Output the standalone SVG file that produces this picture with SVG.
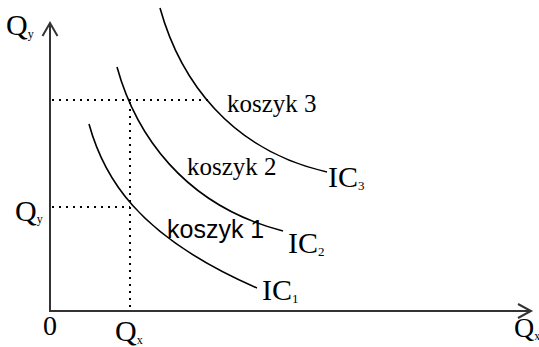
<svg xmlns="http://www.w3.org/2000/svg" width="539" height="347" viewBox="0 0 539 347">
<style>
.axis{stroke:#333;stroke-width:2;fill:none}
.curve{stroke:#000;stroke-width:1.6;fill:none}
.dot{stroke:#000;stroke-width:2;stroke-dasharray:2,5;fill:none}
.t{font-family:"Liberation Serif","Times New Roman",serif;fill:#000}
.s{font-family:"Liberation Sans",Arial,sans-serif;fill:#000}
</style>
<rect width="539" height="347" fill="#fff"/>
<g id="axes">
<path class="axis" d="M50,312 V24 M50,311 H530"/>
<path class="axis" d="M42.5,36 L50,23 L57.5,36"/>
<path class="axis" d="M518,304 L531,311 L518,318"/>
</g>
<g id="connectors">
<path class="dot" d="M52,100 H210"/>
<path class="dot" d="M52,207 H130"/>
<path class="dot" d="M130,102 V311"/>
</g>
<g id="IC1">
<path class="curve" d="M89,124 C103,175 135,235 257,288"/>
<text class="t" x="262" y="300" font-size="30">IC<tspan font-size="13" dy="3">1</tspan></text>
</g>
<g id="IC2">
<text class="s" x="167" y="238" font-size="25">koszyk 1</text>
<path class="curve" d="M117,67 C135,132 182,205 283,231"/>
<text class="t" x="288" y="253" font-size="30">IC<tspan font-size="13" dy="3">2</tspan></text>
</g>
<g id="IC3">
<path class="curve" d="M160,8 C180,80 230,150 327,172"/>
<text class="t" x="328" y="187" font-size="30">IC<tspan font-size="13" dy="3">3</tspan></text>
</g>
<g id="labels">
<text class="t" x="227" y="112" font-size="25">koszyk 3</text>
<text class="t" x="187" y="175" font-size="25">koszyk 2</text>
<text class="t" x="6" y="35" font-size="30">Q<tspan font-size="12" dy="3">y</tspan></text>
<text class="t" x="15" y="221" font-size="30">Q<tspan font-size="12" dy="2">y</tspan></text>
<text class="t" x="43" y="335" font-size="28">0</text>
<text class="t" x="115" y="341" font-size="30">Q<tspan font-size="12" dy="3">x</tspan></text>
<text class="t" x="514" y="337" font-size="28">Q<tspan font-size="12" dy="3">x</tspan></text>
</g>
</svg>
